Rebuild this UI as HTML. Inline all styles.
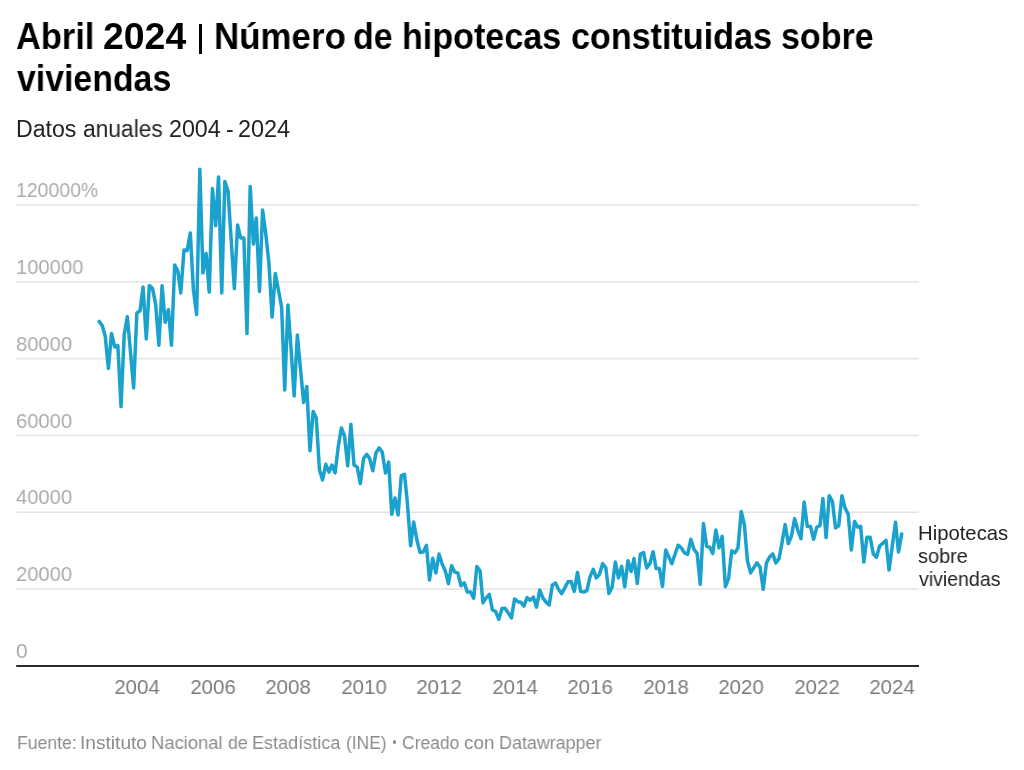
<!DOCTYPE html>
<html><head><meta charset="utf-8">
<style>
*{margin:0;padding:0;box-sizing:border-box}
html,body{width:1024px;height:770px;background:#fff;overflow:hidden}
body{position:relative;font-family:"Liberation Sans",sans-serif}
.t{position:absolute;white-space:nowrap;line-height:1;transform-origin:0 0;will-change:transform}
.title{font-weight:bold;color:#000}
.sub{color:#222}
.yl{color:#ababab}
.xl{color:#7a7a7a}
.lab{color:#222}
.foot{color:#8c8c8c}
svg{position:absolute;left:0;top:0}
</style></head><body>

<div class="t title" style="left:15.88px;top:17.80px;font-size:37.4px;transform:scaleX(0.9202);">Abril</div>
<div class="t title" style="left:102.76px;top:17.80px;font-size:37.4px;transform:scaleX(0.9945);">2024</div>
<div class="t title" style="left:213.57px;top:17.80px;font-size:37.4px;transform:scaleX(0.9333);">Número</div>
<div class="t title" style="left:353.13px;top:17.80px;font-size:37.4px;transform:scaleX(0.9104);">de</div>
<div class="t title" style="left:402.12px;top:17.80px;font-size:37.4px;transform:scaleX(0.9120);">hipotecas</div>
<div class="t title" style="left:570.83px;top:17.80px;font-size:37.4px;transform:scaleX(0.9123);">constituidas</div>
<div class="t title" style="left:781.33px;top:17.80px;font-size:37.4px;transform:scaleX(0.9101);">sobre</div>
<div style="position:absolute;left:198.5px;top:24px;width:3.5px;height:30px;background:#000"></div>
<div class="t title" style="left:17.00px;top:59.50px;font-size:37.4px;transform:scaleX(0.9049);">viviendas</div>
<div class="t sub" style="left:16.09px;top:117.80px;font-size:23.0px;transform:scaleX(1.0044);">Datos</div>
<div class="t sub" style="left:83.01px;top:117.80px;font-size:23.0px;transform:scaleX(0.9905);">anuales</div>
<div class="t sub" style="left:168.74px;top:117.80px;font-size:23.0px;transform:scaleX(1.0112);">2004</div>
<div class="t sub" style="left:225.73px;top:117.80px;font-size:23.0px;transform:scaleX(0.9739);">-</div>
<div class="t sub" style="left:238.33px;top:117.80px;font-size:23.0px;transform:scaleX(1.0193);">2024</div>
<svg width="1024" height="770" viewBox="0 0 1024 770">
<rect x="16.2" y="588.20" width="902.5" height="1.6" fill="#e4e4e4"/>
<rect x="16.2" y="511.40" width="902.5" height="1.6" fill="#e4e4e4"/>
<rect x="16.2" y="434.60" width="902.5" height="1.6" fill="#e4e4e4"/>
<rect x="16.2" y="357.80" width="902.5" height="1.6" fill="#e4e4e4"/>
<rect x="16.2" y="281.00" width="902.5" height="1.6" fill="#e4e4e4"/>
<rect x="16.2" y="204.20" width="902.5" height="1.6" fill="#e4e4e4"/>
<rect x="16.2" y="665" width="902.8" height="2" fill="#2b2b2b"/>
<path d="M99.10,321.4 L102.31,325.7 L105.20,336.0 L108.41,368.4 L111.51,333.4 L114.72,347.0 L117.82,345.6 L121.02,406.6 L124.23,334.3 L127.33,316.8 L130.54,352.3 L133.64,387.8 L136.85,313.0 L140.05,310.8 L143.05,286.9 L146.26,339.0 L149.36,285.6 L152.57,288.6 L155.67,304.3 L158.87,345.2 L162.08,285.7 L165.18,322.2 L168.39,309.7 L171.49,345.2 L174.70,265.0 L177.90,271.4 L180.80,292.9 L184.00,250.0 L187.11,250.7 L190.31,232.9 L193.41,290.0 L196.62,314.5 L199.83,169.3 L202.93,272.9 L206.13,253.6 L209.24,292.1 L212.44,188.6 L215.65,225.7 L218.54,176.9 L221.75,292.9 L224.85,181.4 L228.06,191.4 L231.16,240.0 L234.37,288.6 L237.57,225.0 L240.67,237.9 L243.88,237.9 L246.98,333.6 L250.19,186.4 L253.39,244.0 L256.29,217.9 L259.50,291.4 L262.60,210.0 L265.80,234.3 L268.91,262.9 L272.11,317.1 L275.32,273.6 L278.42,290.0 L281.63,307.1 L284.73,390.0 L287.93,305.0 L291.14,350.0 L294.14,396.0 L297.35,335.0 L300.45,368.6 L303.65,402.5 L306.76,386.4 L309.96,450.7 L313.17,411.4 L316.27,418.0 L319.48,470.0 L322.58,480.0 L325.78,464.3 L328.99,472.1 L331.89,465.0 L335.09,472.9 L338.19,447.1 L341.40,427.9 L344.50,436.0 L347.71,465.7 L350.91,424.3 L354.02,465.0 L357.22,467.1 L360.33,483.6 L363.53,458.6 L366.74,454.3 L369.63,458.6 L372.84,470.7 L375.94,452.9 L379.15,447.9 L382.25,452.1 L385.45,472.9 L388.66,462.1 L391.76,514.3 L394.97,497.9 L398.07,515.0 L401.28,475.7 L404.48,474.3 L407.38,502.9 L410.58,545.7 L413.69,522.1 L416.89,540.0 L420.00,552.4 L423.20,552.1 L426.41,545.4 L429.51,580.0 L432.72,558.3 L435.82,572.9 L439.02,554.0 L442.23,564.3 L445.23,570.7 L448.43,583.6 L451.54,565.7 L454.74,572.1 L457.84,572.9 L461.05,585.7 L464.26,582.9 L467.36,592.1 L470.56,592.1 L473.67,598.3 L476.87,566.4 L480.08,571.0 L482.97,602.9 L486.18,597.9 L489.28,594.3 L492.49,610.0 L495.59,611.4 L498.80,619.3 L502.00,608.6 L505.11,608.3 L508.31,612.9 L511.41,617.9 L514.62,598.9 L517.83,601.7 L520.72,602.2 L523.93,606.2 L527.03,597.7 L530.24,600.3 L533.34,597.1 L536.54,607.1 L539.75,590.0 L542.85,597.9 L546.06,602.1 L549.16,605.0 L552.37,585.0 L555.57,582.9 L558.47,589.3 L561.67,593.6 L564.78,587.9 L567.98,581.7 L571.08,581.4 L574.29,591.4 L577.50,572.4 L580.60,591.4 L583.80,592.1 L586.91,590.7 L590.11,576.4 L593.32,569.3 L596.32,577.9 L599.52,574.3 L602.63,563.6 L605.83,567.9 L608.93,593.6 L612.14,587.1 L615.35,562.1 L618.45,577.9 L621.65,566.4 L624.76,586.8 L627.96,560.7 L631.17,571.4 L634.06,558.6 L637.27,583.6 L640.37,554.0 L643.58,552.6 L646.68,567.9 L649.89,563.6 L653.09,551.7 L656.19,568.6 L659.40,568.6 L662.50,586.4 L665.71,550.0 L668.91,557.1 L671.81,563.8 L675.02,554.3 L678.12,545.2 L681.32,547.9 L684.43,552.9 L687.63,554.3 L690.84,539.3 L693.94,549.3 L697.15,553.6 L700.25,584.3 L703.45,523.6 L706.66,546.4 L709.56,547.1 L712.76,553.6 L715.86,530.0 L719.07,547.9 L722.17,536.4 L725.38,586.7 L728.58,578.6 L731.69,550.7 L734.89,552.9 L737.99,547.9 L741.20,511.4 L744.41,525.0 L747.41,560.7 L750.61,572.9 L753.71,567.9 L756.92,562.9 L760.02,567.1 L763.23,589.3 L766.43,562.9 L769.54,557.1 L772.74,553.9 L775.84,562.9 L779.05,558.6 L782.26,541.4 L785.15,524.6 L788.36,543.6 L791.46,536.0 L794.67,518.6 L797.77,530.0 L800.97,538.6 L804.18,502.1 L807.28,526.4 L810.49,526.4 L813.59,539.3 L816.80,527.1 L820.00,525.7 L822.90,498.6 L826.10,537.5 L829.21,495.7 L832.41,501.4 L835.51,527.9 L838.72,525.7 L841.93,495.7 L845.03,507.9 L848.23,514.3 L851.34,550.0 L854.54,521.4 L857.75,527.1 L860.64,526.4 L863.85,562.0 L866.95,537.2 L870.16,537.2 L873.26,553.7 L876.47,557.2 L879.67,546.0 L882.78,543.2 L885.98,540.3 L889.08,570.1 L892.29,546.1 L895.50,522.3 L898.49,552.0 L901.70,533.9" fill="none" stroke="#1ba1ce" stroke-width="3.5" stroke-linejoin="round" stroke-linecap="round"/>
</svg>
<div class="t yl" style="left:16.00px;top:640.00px;font-size:21.0px;transform:scaleX(0.9607);">0</div>
<div class="t yl" style="left:16.00px;top:563.20px;font-size:21.0px;transform:scaleX(0.9607);">20000</div>
<div class="t yl" style="left:16.00px;top:486.40px;font-size:21.0px;transform:scaleX(0.9607);">40000</div>
<div class="t yl" style="left:16.00px;top:409.60px;font-size:21.0px;transform:scaleX(0.9607);">60000</div>
<div class="t yl" style="left:16.00px;top:332.80px;font-size:21.0px;transform:scaleX(0.9607);">80000</div>
<div class="t yl" style="left:16.00px;top:256.00px;font-size:21.0px;transform:scaleX(0.9607);">100000</div>
<div class="t yl" style="left:16.00px;top:179.20px;font-size:21.0px;transform:scaleX(0.9260);">120000%</div>
<div class="t xl" style="left:97.05px;width:80px;text-align:center;top:676.2px;font-size:21.0px;transform-origin:50% 0;transform:scaleX(0.9741)">2004</div>
<div class="t xl" style="left:172.64px;width:80px;text-align:center;top:676.2px;font-size:21.0px;transform-origin:50% 0;transform:scaleX(0.9741)">2006</div>
<div class="t xl" style="left:248.13px;width:80px;text-align:center;top:676.2px;font-size:21.0px;transform-origin:50% 0;transform:scaleX(0.9741)">2008</div>
<div class="t xl" style="left:323.73px;width:80px;text-align:center;top:676.2px;font-size:21.0px;transform-origin:50% 0;transform:scaleX(0.9741)">2010</div>
<div class="t xl" style="left:399.22px;width:80px;text-align:center;top:676.2px;font-size:21.0px;transform-origin:50% 0;transform:scaleX(0.9741)">2012</div>
<div class="t xl" style="left:474.82px;width:80px;text-align:center;top:676.2px;font-size:21.0px;transform-origin:50% 0;transform:scaleX(0.9741)">2014</div>
<div class="t xl" style="left:550.31px;width:80px;text-align:center;top:676.2px;font-size:21.0px;transform-origin:50% 0;transform:scaleX(0.9741)">2016</div>
<div class="t xl" style="left:625.91px;width:80px;text-align:center;top:676.2px;font-size:21.0px;transform-origin:50% 0;transform:scaleX(0.9741)">2018</div>
<div class="t xl" style="left:701.40px;width:80px;text-align:center;top:676.2px;font-size:21.0px;transform-origin:50% 0;transform:scaleX(0.9741)">2020</div>
<div class="t xl" style="left:777.00px;width:80px;text-align:center;top:676.2px;font-size:21.0px;transform-origin:50% 0;transform:scaleX(0.9741)">2022</div>
<div class="t xl" style="left:852.49px;width:80px;text-align:center;top:676.2px;font-size:21.0px;transform-origin:50% 0;transform:scaleX(0.9741)">2024</div>
<div class="t lab" style="left:918.00px;top:523.00px;font-size:20.3px;">Hipotecas</div>
<div class="t lab" style="left:918.00px;top:546.05px;font-size:20.3px;transform:scaleX(0.9800);">sobre</div>
<div class="t lab" style="left:919.00px;top:569.10px;font-size:20.3px;transform:scaleX(0.9630);">viviendas</div>
<div style="position:absolute;left:392.5px;top:740.2px;width:3.6px;height:3.6px;border-radius:50%;background:#8c8c8c"></div>
<div class="t foot" style="left:16.60px;top:734.00px;font-size:18.9px;transform:scaleX(0.9333);">Fuente:</div>
<div class="t foot" style="left:79.93px;top:734.00px;font-size:18.9px;transform:scaleX(1.0126);">Instituto</div>
<div class="t foot" style="left:151.34px;top:734.00px;font-size:18.9px;transform:scaleX(0.9739);">Nacional</div>
<div class="t foot" style="left:227.70px;top:734.00px;font-size:18.9px;transform:scaleX(0.9385);">de</div>
<div class="t foot" style="left:251.97px;top:734.00px;font-size:18.9px;transform:scaleX(0.9560);">Estadística</div>
<div class="t foot" style="left:345.75px;top:734.00px;font-size:18.9px;transform:scaleX(0.9198);">(INE)</div>
<div class="t foot" style="left:401.78px;top:734.00px;font-size:18.9px;transform:scaleX(0.9245);">Creado</div>
<div class="t foot" style="left:463.85px;top:734.00px;font-size:18.9px;transform:scaleX(0.9965);">con</div>
<div class="t foot" style="left:498.78px;top:734.00px;font-size:18.9px;transform:scaleX(0.9478);">Datawrapper</div>
</body></html>
